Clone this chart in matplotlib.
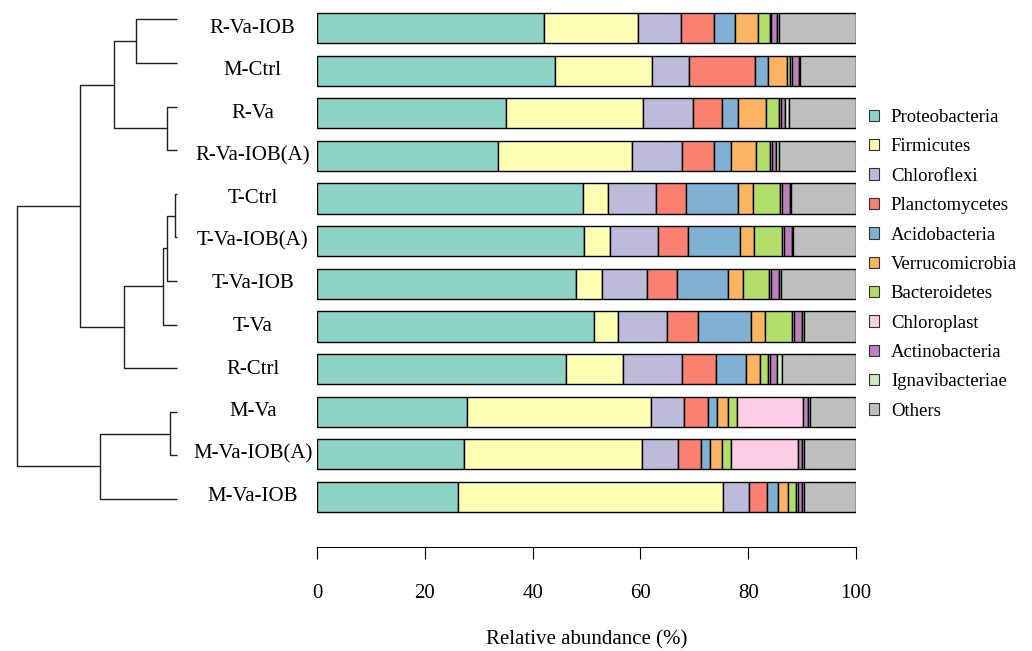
import numpy as np
import matplotlib
matplotlib.use("Agg")
import matplotlib.pyplot as plt
from matplotlib.patches import Patch

plt.rcParams['font.family'] = ['Liberation Serif', 'DejaVu Serif']

# 样品顺序（自上而下，与聚类树叶子顺序一致）
samples = ["R-Va-IOB", "M-Ctrl", "R-Va", "R-Va-IOB(A)", "T-Ctrl", "T-Va-IOB(A)",
           "T-Va-IOB", "T-Va", "R-Ctrl", "M-Va", "M-Va-IOB(A)", "M-Va-IOB"]

phyla = ["Proteobacteria", "Firmicutes", "Chloroflexi", "Planctomycetes",
         "Acidobacteria", "Verrucomicrobia", "Bacteroidetes", "Chloroplast",
         "Actinobacteria", "Ignavibacteriae", "Others"]

colors = ["#8DD3C7", "#FFFFB3", "#BEBADA", "#FB8072", "#80B1D3", "#FDB462",
          "#B3DE69", "#FCCDE5", "#BC80BD", "#CCEBC5", "#BEBEBE"]

# 各门相对丰度 (%)，每行对应 samples 中一个样品
proteobacteria = [42.2, 44.1, 35.0, 33.5, 49.3, 49.6, 48.0, 51.4, 46.2, 27.9, 27.3, 26.2]
firmicutes     = [17.3, 18.0, 25.4, 24.9, 4.6, 4.7, 4.8, 4.4, 10.5, 34.0, 33.0, 49.1]
chloroflexi    = [8.0, 7.0, 9.3, 9.4, 9.0, 9.0, 8.5, 9.2, 11.0, 6.2, 6.6, 4.9]
planctomycetes = [6.1, 12.1, 5.5, 5.9, 5.5, 5.5, 5.4, 5.6, 6.4, 4.4, 4.3, 3.3]
acidobacteria  = [3.9, 2.4, 2.9, 3.1, 9.7, 9.7, 9.6, 10.0, 5.5, 1.8, 1.8, 2.0]
verrucomicrob  = [4.3, 3.6, 5.2, 4.7, 2.8, 2.6, 2.7, 2.5, 2.6, 2.0, 2.2, 1.9]
bacteroidetes  = [2.3, 0.5, 2.4, 2.6, 5.0, 5.2, 4.9, 5.1, 1.5, 1.6, 1.7, 1.4]
chloroplast    = [0.2, 0.5, 0.3, 0.3, 0.3, 0.3, 0.4, 0.3, 0.4, 12.3, 12.3, 0.4]
actinobacteria = [1.0, 1.2, 0.9, 0.8, 1.5, 1.6, 1.4, 1.5, 1.3, 0.9, 0.7, 0.8]
ignavibacteria = [0.5, 0.3, 0.7, 0.6, 0.3, 0.2, 0.4, 0.3, 0.9, 0.3, 0.5, 0.4]
others         = [14.2, 10.3, 12.4, 14.2, 12.0, 11.6, 13.9, 9.7, 13.7, 8.6, 9.6, 9.6]

# 聚类树合并记录: (子节点1, 子节点2, 高度)；叶子编号 0-11，新节点从 12 起
merges = [(0, 1, 41.3), (2, 3, 10.3), (12, 13, 62.7), (4, 5, 2.0),
          (15, 6, 10.3), (16, 7, 13.7), (17, 8, 53.0), (14, 18, 97.0),
          (9, 10, 7.0), (20, 11, 77.0), (19, 21, 159.7)]

W, H = 1032, 651
fig = plt.figure(figsize=(W / 100, H / 100), dpi=100)


def px_axes(left, top, right, bottom):
    return fig.add_axes([left / W, 1 - bottom / H, (right - left) / W, (bottom - top) / H])


# ---------------- 聚类树 ----------------
axd = px_axes(15, 1.9, 178, 516.4)
pos = {i: float(i) for i in range(len(samples))}
hgt = {i: 0.0 for i in range(len(samples))}
for k, (a, b, h) in enumerate(merges):
    node = len(samples) + k
    axd.plot([hgt[a], h, h, hgt[b]], [pos[a], pos[a], pos[b], pos[b]],
             color="#222222", lw=1.0, solid_capstyle="butt")
    pos[node] = (pos[a] + pos[b]) / 2
    hgt[node] = h
axd.set_xlim(162, -1)
axd.set_ylim(11.4, -0.4)
axd.axis("off")

# ---------------- 堆叠条形图 ----------------
table = np.array([proteobacteria, firmicutes, chloroflexi, planctomycetes,
                  acidobacteria, verrucomicrob, bacteroidetes, chloroplast,
                  actinobacteria, ignavibacteria, others])

ax = px_axes(317, 6.7, 856, 518.3)
y = np.arange(len(samples))
left = np.zeros(len(samples))
for vals, c in zip(table, colors):
    ax.barh(y, vals, left=left, height=0.71, color=c, edgecolor="black", linewidth=1.0)
    left += vals

ax.set_xlim(0, 100)
ax.set_ylim(len(samples) - 0.5, -0.5)
for s in ["top", "right", "left"]:
    ax.spines[s].set_visible(False)
ax.spines["bottom"].set_position(("outward", 21))
ax.spines["bottom"].set_bounds(0, 100)
ax.set_yticks([])
ax.set_xticks([0, 20, 40, 60, 80, 100])
ax.tick_params(axis="x", length=8.6, width=0.8, pad=17.5, labelsize=15)
ax.set_xlabel("Relative abundance (%)", fontsize=15)
ax.xaxis.set_label_coords(0.5, -0.238)
ax.xaxis.label.set_va("center")

for yi, name in zip(y, samples):
    ax.text(-11.93, yi, name, ha="center", va="center", fontsize=15, clip_on=False)

handles = [Patch(facecolor=c, edgecolor="#333333", linewidth=0.8) for c in colors]
ax.legend(handles, phyla, loc="upper left", bbox_to_anchor=(869 / W, 1 - 109 / H),
          bbox_transform=fig.transFigure, frameon=False, fontsize=13.5,
          handlelength=0.55, handleheight=0.55, handletextpad=0.62,
          labelspacing=0.66, borderaxespad=0, borderpad=0)

plt.savefig("out.png", dpi=100)
